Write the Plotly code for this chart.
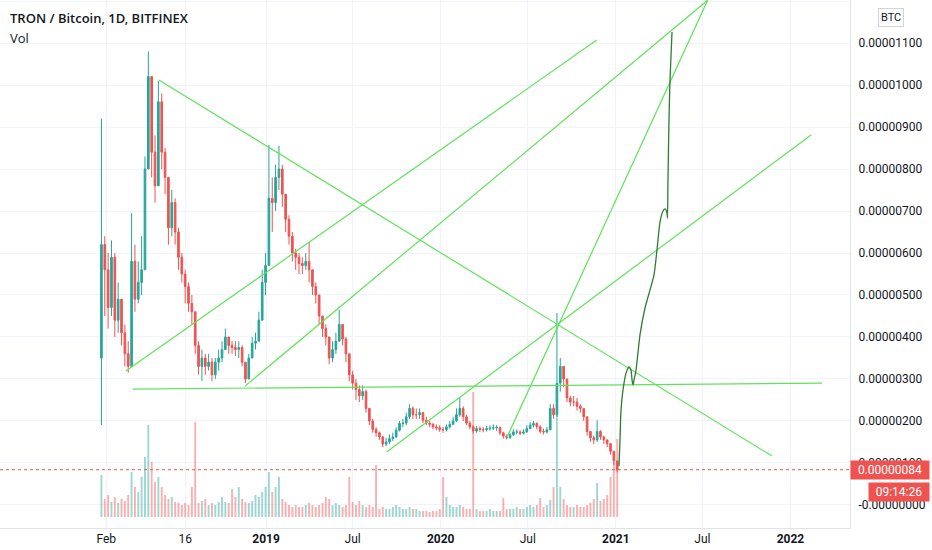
import plotly.graph_objects as go
import pandas as pd

# weekly TRX/BTC candles, prices in units of 1e-6 BTC
weeks = pd.date_range("2018-01-22", periods=155, freq="7D")
first_open = 3.5
close = [6.2, 5.6, 4.7, 5.9, 4.4, 4.9, 4.1, 3.6, 3.3, 5.8,
         4.9, 5.3, 5.6, 8.0, 10.2, 8.4, 7.6, 9.6, 8.4, 7.8,
         6.6, 7.2, 6.5, 5.9, 5.5, 5.2, 4.8, 4.6, 3.8, 3.3,
         3.5, 3.3, 3.4, 3.1, 3.4, 3.5, 3.7, 4.0, 3.8, 3.75,
         3.7, 3.75, 3.4, 3.0, 3.5, 3.85, 3.9, 4.4, 5.3, 5.7,
         7.3, 7.2, 7.8, 8.0, 7.4, 6.8, 6.4, 6.0, 5.9, 5.75,
         5.7, 5.8, 5.6, 5.2, 5.0, 4.5, 4.2, 4.0, 3.5, 3.7,
         3.9, 4.3, 3.95, 3.6, 3.1, 2.9, 2.75, 2.6, 2.7, 2.3,
         2.0, 1.8, 1.72, 1.62, 1.45, 1.5, 1.58, 1.62, 1.78, 1.94,
         1.95, 2.1, 2.3, 2.15, 2.15, 2.2, 2.02, 1.95, 1.92, 1.86,
         1.84, 1.8, 1.79, 1.86, 1.92, 2.0, 2.15, 2.3, 2.1, 1.95,
         1.86, 1.76, 1.82, 1.8, 1.79, 1.82, 1.83, 1.84, 1.85, 1.72,
         1.64, 1.6, 1.67, 1.74, 1.74, 1.71, 1.74, 1.82, 1.9, 1.94,
         1.86, 1.75, 1.74, 1.79, 2.3, 2.15, 2.9, 3.3, 3.0, 2.55,
         2.45, 2.45, 2.35, 2.3, 2.1, 1.75, 1.6, 1.55, 1.75, 1.62,
         1.55, 1.46, 1.28, 1.05, 0.84]
high = [9.2, 6.4, 6.0, 6.3, 6.0, 5.3, 4.9, 4.3, 3.9, 6.95,
        6.2, 5.8, 6.4, 8.3, 10.8, 10.2, 8.8, 10.1, 9.8, 8.5,
        7.8, 7.5, 7.3, 6.6, 6.0, 5.6, 5.3, 5.0, 4.6, 3.9,
        3.7, 3.6, 3.6, 3.5, 3.5, 3.7, 3.9, 4.2, 4.0, 3.9,
        3.9, 3.9, 3.8, 3.4, 3.6, 4.0, 4.1, 4.6, 5.6, 6.0,
        8.57, 7.8, 8.1, 8.55, 8.1, 7.4, 6.9, 6.5, 6.1, 6.0,
        5.9, 6.0, 6.25, 5.6, 5.3, 5.0, 4.5, 4.3, 4.0, 3.9,
        4.1, 4.64, 4.3, 4.0, 3.6, 3.2, 3.0, 2.85, 2.85, 2.75,
        2.3, 2.05, 1.85, 1.75, 1.65, 1.6, 1.68, 1.72, 1.85, 2.0,
        2.05, 2.2, 2.4, 2.35, 2.3, 2.3, 2.2, 2.1, 2.0, 1.95,
        1.92, 1.9, 1.86, 1.92, 2.0, 2.1, 2.3, 2.57, 2.35, 2.15,
        2.0, 1.9, 1.88, 1.87, 1.85, 1.88, 1.9, 1.92, 1.9, 1.86,
        1.74, 1.68, 1.72, 1.8, 1.8, 1.78, 1.8, 1.9, 1.97, 2.0,
        1.97, 1.9, 1.82, 1.86, 2.4, 2.4, 4.57, 3.5, 3.3, 3.0,
        2.6, 2.6, 2.55, 2.4, 2.3, 2.1, 1.75, 1.65, 2.02, 1.78,
        1.65, 1.55, 1.46, 1.28, 1.05]
low = [1.9, 4.5, 4.2, 4.5, 4.0, 4.1, 3.8, 3.3, 3.15, 3.3,
       4.6, 4.8, 5.0, 5.6, 8.0, 7.8, 7.2, 7.6, 8.0, 7.4,
       6.2, 6.4, 6.2, 5.6, 5.3, 4.8, 4.6, 4.3, 3.6, 3.1,
       2.95, 3.1, 3.2, 2.95, 3.0, 3.2, 3.4, 3.7, 3.6, 3.6,
       3.55, 3.5, 3.3, 2.9, 3.0, 3.5, 3.7, 3.9, 4.4, 5.0,
       5.7, 6.5, 7.0, 7.5, 7.1, 6.5, 6.2, 5.8, 5.6, 5.5,
       5.5, 5.6, 5.3, 5.0, 4.8, 4.3, 4.0, 3.8, 3.35, 3.4,
       3.6, 3.9, 3.8, 3.4, 2.95, 2.75, 2.5, 2.45, 2.5, 2.2,
       1.9, 1.72, 1.62, 1.55, 1.38, 1.4, 1.45, 1.52, 1.6, 1.75,
       1.85, 1.9, 2.05, 2.05, 2.05, 2.05, 1.95, 1.9, 1.85, 1.8,
       1.78, 1.74, 1.72, 1.75, 1.82, 1.9, 1.98, 2.1, 2.0, 1.9,
       1.8, 1.7, 1.72, 1.74, 1.73, 1.75, 1.77, 1.78, 1.76, 1.66,
       1.58, 1.56, 1.58, 1.64, 1.68, 1.66, 1.68, 1.72, 1.8, 1.85,
       1.8, 1.7, 1.68, 1.7, 1.78, 2.05, 2.1, 2.7, 2.8, 2.45,
       2.35, 2.35, 2.25, 2.2, 2.0, 1.65, 1.5, 1.45, 1.5, 1.55,
       1.45, 1.38, 1.2, 0.95, 0.78]
volume = [42, 18, 22, 15, 20, 14, 18, 16, 22, 45,
          30, 25, 40, 60, 92, 55, 35, 40, 30, 22,
          18, 20, 15, 14, 12, 14, 12, 30, 95, 14,
          16, 18, 12, 14, 12, 15, 20, 15, 14, 28,
          20, 30, 18, 15, 14, 16, 22, 20, 25, 30,
          45, 25, 30, 40, 18, 15, 12, 10, 12, 10,
          10, 12, 14, 12, 10, 12, 14, 20, 18, 12,
          14, 12, 10, 12, 40, 15, 12, 16, 12, 10,
          12, 10, 52, 8, 10, 8, 8, 10, 12, 10,
          8, 8, 10, 8, 8, 6, 6, 6, 5, 6,
          6, 8, 40, 20, 12, 10, 10, 12, 10, 8,
          8, 125, 8, 6, 6, 6, 8, 6, 6, 6,
          19, 8, 8, 8, 10, 8, 8, 10, 12, 10,
          12, 19, 10, 12, 17, 30, 110, 30, 18, 12,
          10, 10, 12, 10, 10, 12, 14, 18, 34, 16,
          18, 22, 40, 55, 78]

# hand-drawn trend lines (start/end date and price)
trend_x0 = ["2018-05-22", "2018-03-14", "2018-11-18", "2018-03-28", "2019-09-10", "2020-05-18"]
trend_y0 = [10.12, 3.19, 2.83, 2.76, 1.26, 1.60]
trend_x1 = ["2021-11-23", "2020-11-22", "2021-07-12", "2022-03-08", "2022-02-13", "2021-07-12"]
trend_y1 = [1.17, 11.07, 12.02, 2.90, 8.81, 12.02]

# projected path drawn by hand
proj_dates = ["2021-01-07 17:00", "2021-01-09 19:00", "2021-01-11 22:00", "2021-01-16 02:00",
              "2021-01-22 10:00", "2021-01-28 14:00", "2021-02-01 19:00", "2021-02-03 22:00",
              "2021-02-06 00:00", "2021-02-08 02:00", "2021-02-12 07:00", "2021-02-20 14:00",
              "2021-03-03 02:00", "2021-03-13 12:00", "2021-03-21 22:00", "2021-03-28 02:00",
              "2021-04-03 10:00", "2021-04-09 17:00", "2021-04-13 22:00", "2021-04-18 02:00",
              "2021-04-19 02:00", "2021-04-20 02:00", "2021-04-22 05:00", "2021-04-24 07:00",
              "2021-04-28 12:00"]
proj_prices = [0.93, 1.55, 2.26, 2.74, 3.14, 3.29, 3.21, 2.98, 2.86, 2.98, 3.21, 4.05,
               4.69, 5.12, 5.48, 6.07, 6.74, 7.0, 7.05, 6.95, 6.83, 7.74, 9.17, 10.12, 11.26]

tick_dates = ["2018-02-01", "2018-07-16", "2019-01-01", "2019-07-01", "2020-01-01",
              "2020-07-01", "2021-01-01", "2021-07-01", "2022-01-01"]
tick_labels = ["Feb", "16", "<b>2019</b>", "Jul", "<b>2020</b>", "Jul", "<b>2021</b>", "Jul", "<b>2022</b>"]
price_ticks = list(range(0, 13))

scale = 1e-6
UP = "#26a69a"
DOWN = "#ef5350"
LINE_GREEN = "#5fe25a"

open_ = [first_open] + close[:-1]
vol_colors = ["rgba(38,166,154,0.45)" if c >= o else "rgba(239,83,80,0.45)" for o, c in zip(open_, close)]

fig = go.Figure()

fig.add_trace(go.Bar(
    x=weeks, y=volume, marker_color=vol_colors, marker_line_width=0,
    width=4 * 24 * 3600 * 1000, yaxis="y2", hoverinfo="skip"
))

fig.add_trace(go.Candlestick(
    x=weeks,
    open=[v * scale for v in open_],
    high=[v * scale for v in high],
    low=[v * scale for v in low],
    close=[v * scale for v in close],
    increasing=dict(line=dict(color=UP, width=1), fillcolor=UP),
    decreasing=dict(line=dict(color=DOWN, width=1), fillcolor=DOWN),
    whiskerwidth=0,
))

for x0, y0, x1, y1 in zip(trend_x0, trend_y0, trend_x1, trend_y1):
    fig.add_trace(go.Scatter(
        x=[x0, x1], y=[y0 * scale, y1 * scale], mode="lines",
        line=dict(color=LINE_GREEN, width=1.2), hoverinfo="skip"
    ))

fig.add_trace(go.Scatter(
    x=proj_dates, y=[v * scale for v in proj_prices], mode="lines",
    line=dict(color="#2e7d32", width=1.3, shape="spline", smoothing=0.6), hoverinfo="skip"
))

last_price = close[-1] * scale
fig.add_shape(type="line", xref="paper", x0=0, x1=1, y0=last_price, y1=last_price,
              line=dict(color=DOWN, width=1, dash="dot"))

price_text = ["-0.00000000" if p == 0 else "%.8f" % (p * scale) for p in price_ticks]

fig.update_layout(
    width=932, height=550,
    margin=dict(l=0, r=82, t=0, b=22),
    paper_bgcolor="white", plot_bgcolor="white",
    showlegend=False,
    font=dict(family="Open Sans", size=12, color="#131722"),
    xaxis=dict(
        type="date", range=["2017-06-24", "2022-05-05 12:00"],
        tickvals=tick_dates, ticktext=tick_labels,
        showgrid=True, gridcolor="#f0f3fa", gridwidth=1,
        showline=True, linecolor="#e0e3eb", ticks="", ticklabelstandoff=0,
        rangeslider=dict(visible=False), zeroline=False,
        tickfont=dict(size=12, color="#131722", family="Roboto"),
    ),
    yaxis=dict(
        side="right", range=[-0.548 * scale, 12.024 * scale],
        tickvals=[p * scale for p in price_ticks], ticktext=price_text,
        showgrid=True, gridcolor="#f0f3fa", gridwidth=1,
        showline=True, linecolor="#e0e3eb", ticks="", ticklabelstandoff=5,
        zeroline=False, tickfont=dict(size=12, color="#131722", family="Roboto"),
    ),
    yaxis2=dict(overlaying="y", range=[-11, 517], visible=False),
)

fig.add_annotation(xref="paper", yref="paper", x=0.009, y=0.966, xanchor="left", yanchor="middle",
                   text="TRON / Bitcoin, 1D, BITFINEX", showarrow=False,
                   font=dict(size=13, color="#131722", family="Open Sans SemiBold, Open Sans"))
fig.add_annotation(xref="paper", yref="paper", x=0.009, y=0.928, xanchor="left", yanchor="middle",
                   text="Vol", showarrow=False, font=dict(size=13, color="#131722"))
fig.add_annotation(xref="paper", yref="paper", x=1.048, y=0.966, xanchor="center", yanchor="middle",
                   text="BTC", showarrow=False, font=dict(size=11, color="#131722", family="Roboto"),
                   bordercolor="#d1d4dc", borderwidth=1, borderpad=2, bgcolor="white")
fig.add_annotation(xref="paper", yref="y", x=1, y=last_price, xanchor="left", yanchor="middle",
                   text="%.8f" % last_price, showarrow=False, bgcolor=DOWN, width=74, align="center",
                   font=dict(size=12, color="white", family="Roboto"), borderpad=2)
fig.add_annotation(xref="paper", yref="y", x=1, y=last_price, xanchor="left", yanchor="middle",
                   xshift=18, yshift=-22, text="09:14:26", showarrow=False, bgcolor=DOWN, width=56,
                   align="center", font=dict(size=12, color="white", family="Roboto"), borderpad=2)

# page body has a default 8px margin; drop it so the figure fills the window
fig.write_html("out.html", config={"displayModeBar": False},
               post_script="document.body.style.margin='0';")
